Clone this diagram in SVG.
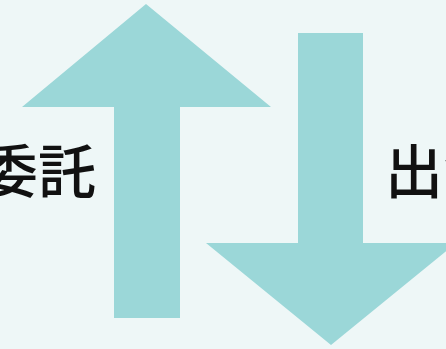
<svg xmlns="http://www.w3.org/2000/svg" width="446" height="349" viewBox="0 0 446 349">
<style>
.arrow{fill:#9BD7D8}
.lbl{font-family:"Noto Sans CJK JP","Noto Sans CJK SC",sans-serif;font-size:58px;font-weight:500;fill:#111}
</style>
<rect width="446" height="349" fill="#EEF7F7"/>
<g id="connectors">
<polygon id="up-arrow" class="arrow" points="146,4 271,107 180,107 180,318 114,318 114,107 22,107"/>
<polygon id="down-arrow" class="arrow" points="298,33 363,33 363,243 456,243 331,345 206,243 298,243"/>
</g>
<g id="node-itaku"><text class="lbl" x="96" y="193" text-anchor="end">委託</text></g>
<g id="node-shutsu"><text class="lbl" x="385" y="193">出資</text></g>
</svg>
